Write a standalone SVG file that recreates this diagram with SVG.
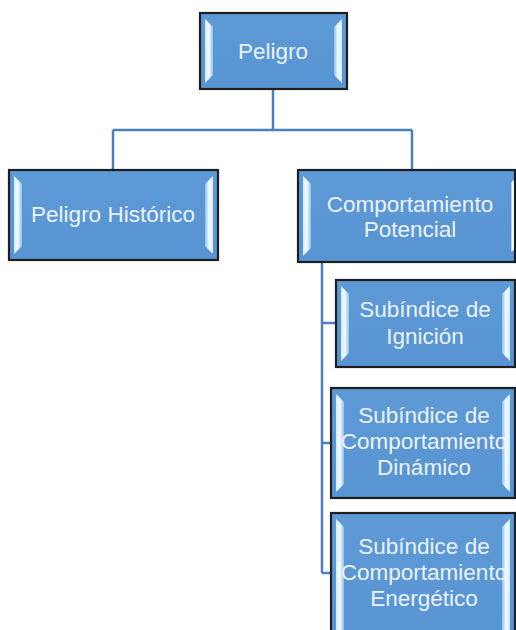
<svg xmlns="http://www.w3.org/2000/svg" width="516" height="630" viewBox="0 0 516 630">
<defs>
<linearGradient id="fill" x1="0" y1="0" x2="0" y2="1">
<stop offset="0" stop-color="#5d9ad6"/>
<stop offset="1" stop-color="#5894d2"/>
</linearGradient>
<linearGradient id="bevL" x1="0" y1="0" x2="1" y2="0">
<stop offset="0" stop-color="#d4ecff"/>
<stop offset="0.5" stop-color="#f4fbff"/>
<stop offset="1" stop-color="#8ec0ec"/>
</linearGradient>
<linearGradient id="bevR" x1="1" y1="0" x2="0" y2="0">
<stop offset="0" stop-color="#d4ecff"/>
<stop offset="0.5" stop-color="#f4fbff"/>
<stop offset="1" stop-color="#8ec0ec"/>
</linearGradient>
</defs>
<style>
.box{fill:url(#fill);stroke:#1e1e1e;stroke-width:2.2}
.bl{fill:url(#bevL)}
.br{fill:url(#bevR)}
.t{font-family:"Liberation Sans","Noto Sans",sans-serif;font-size:22.5px;fill:#eaf2fa;text-anchor:middle}
.c{fill:none;stroke:#4a7fc0;stroke-width:2.5}
</style>
<g id="connectors">
<path class="c" d="M273 89 V130 M113 130 H412 M113 130 V170 M412 130 V170"/>
<path class="c" d="M322 262 V573 M322 323 H336 M322 443 H331 M322 573 H331"/>
</g>
<g id="n0">
<rect class="box" x="200" y="13" width="147" height="76"/>
<path class="bl" d="M205 19 L213 27 L213 75 L205 83 Z"/>
<path class="br" d="M342 19 L334 27 L334 75 L342 83 Z"/>
<text class="t" x="273" y="59">Peligro</text>
</g>
<g id="n1">
<rect class="box" x="9" y="170" width="209" height="90"/>
<path class="bl" d="M14 176 L22 184 L22 246 L14 254 Z"/>
<path class="br" d="M213 176 L205 184 L205 246 L213 254 Z"/>
<text class="t" x="113" y="222">Peligro Histórico</text>
</g>
<g id="n2">
<rect class="box" x="298" y="170" width="217" height="92"/>
<path class="bl" d="M303 176 L311 184 L311 248 L303 256 Z"/>
<path class="br" d="M514 180 L514 250 L511 252 L511 182 Z"/>
<text class="t" x="410" y="212">Comportamiento</text>
<text class="t" x="410" y="237">Potencial</text>
</g>
<g id="n3">
<rect class="box" x="336" y="280" width="179" height="87"/>
<path class="bl" d="M341 286 L349 294 L349 353 L341 361 Z"/>
<path class="br" d="M510 286 L502 294 L502 353 L510 361 Z"/>
<text class="t" x="425" y="317">Subíndice de</text>
<text class="t" x="425" y="344">Ignición</text>
</g>
<g id="n4">
<rect class="box" x="331" y="388" width="184" height="110"/>
<path class="bl" d="M336 394 L344 402 L344 484 L336 492 Z"/>
<path class="br" d="M510 394 L502 402 L502 484 L510 492 Z"/>
<text class="t" x="424" y="423">Subíndice de</text>
<text class="t" x="424" y="449">Comportamiento</text>
<text class="t" x="424" y="475">Dinámico</text>
</g>
<g id="n5">
<rect class="box" x="331" y="513" width="184" height="130"/>
<path class="bl" d="M336 519 L344 527 L344 630 L336 630 Z"/>
<path class="br" d="M510 519 L502 527 L502 630 L510 630 Z"/>
<text class="t" x="424" y="554">Subíndice de</text>
<text class="t" x="424" y="580">Comportamiento</text>
<text class="t" x="424" y="606">Energético</text>
</g>
</svg>
